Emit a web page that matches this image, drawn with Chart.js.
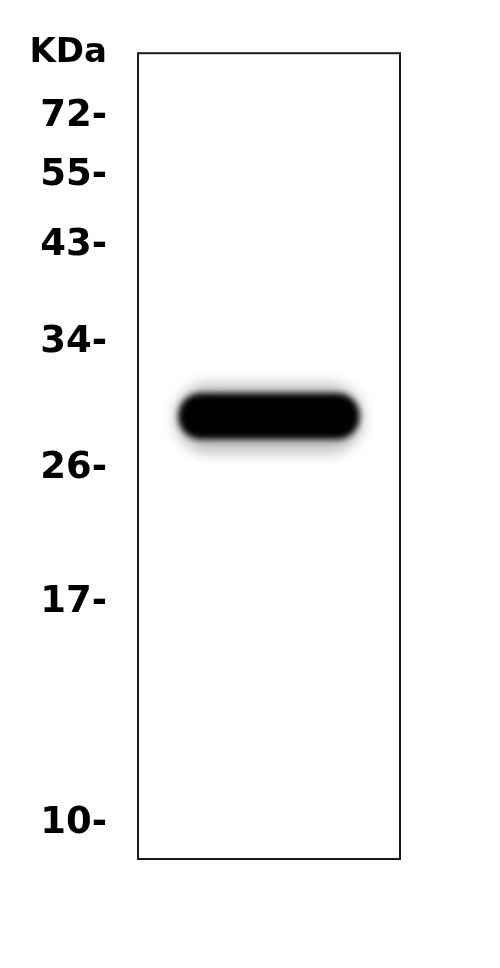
<!DOCTYPE html>
<html>
<head>
<meta charset="utf-8">
<script src="https://cdn.jsdelivr.net/npm/chart.js@4.4.1/dist/chart.umd.min.js"></script>
<style>
  html, body { margin: 0; padding: 0; background: #ffffff; }
  #wrap { width: 500px; height: 968px; position: relative; }
</style>
</head>
<body>
<div id="wrap"><canvas id="c"></canvas></div>
<script>
// ---- data read from the blot ----
const unitLabel = 'KDa';
const markerKDa = [72, 55, 43, 34, 26, 17, 10];
// relative migration distance down the lane (0 = top of lane, 100 = bottom)
const markerMigration = [7.9, 15.2, 23.8, 35.9, 51.5, 68.1, 95.6];
const unitPosition = 0;
const lanes = ['Lane 1'];
// detected band (relative migration: [upper edge, lower edge])
const bandCore = [[42.2, 47.9]];
const bandHalo = [[41.0, 49.6]];

const tickValues = [unitPosition].concat(markerMigration);
const tickLabels = [unitLabel].concat(markerKDa.map(v => v + '-'));

const blurPlugin = {
  id: 'bandBlur',
  beforeDatasetDraw(chart, args) {
    const ds = chart.data.datasets[args.index];
    chart.ctx.save();
    chart.ctx.filter = 'blur(' + (ds.blurPx || 0) + 'px)';
  },
  afterDatasetDraw(chart) {
    chart.ctx.restore();
  }
};

const framePlugin = {
  id: 'laneFrame',
  afterDraw(chart) {
    const a = chart.chartArea;
    const ctx = chart.ctx;
    ctx.save();
    ctx.strokeStyle = '#1a1a1a';
    ctx.lineWidth = 2;
    ctx.strokeRect(a.left, a.top, a.right - a.left, a.bottom - a.top);
    ctx.restore();
  }
};

new Chart(document.getElementById('c'), {
  type: 'bar',
  data: {
    labels: lanes,
    datasets: [
      {
        data: bandHalo,
        backgroundColor: 'rgba(0,0,0,0.25)',
        borderSkipped: false,
        borderRadius: 40,
        barPercentage: 0.72,
        categoryPercentage: 1,
        grouped: false,
        blurPx: 7
      },
      {
        data: bandCore,
        backgroundColor: '#000000',
        borderSkipped: false,
        borderRadius: 22,
        barPercentage: 0.69,
        categoryPercentage: 1,
        grouped: false,
        blurPx: 3
      }
    ]
  },
  options: {
    responsive: true,
    maintainAspectRatio: false,
    animation: false,
    devicePixelRatio: 1,
    layout: { padding: { top: 52, bottom: 109, right: 100, left: 0 } },
    plugins: {
      legend: { display: false },
      tooltip: { enabled: false },
      title: { display: false }
    },
    scales: {
      x: { display: false },
      y: {
        type: 'linear',
        reverse: true,
        min: 0,
        max: 100,
        grid: { display: false, drawTicks: false },
        border: { display: false },
        afterFit(scale) { scale.width = 138; },
        afterBuildTicks(scale) {
          scale.ticks = tickValues.map(v => ({ value: v }));
        },
        ticks: {
          autoSkip: false,
          padding: 31,
          color: '#000000',
          font: (ctx) => ({
            family: '"DejaVu Sans", Verdana, sans-serif',
            weight: 'bold',
            size: ctx.index === 0 ? 34 : 37
          }),
          callback: (value, index) => tickLabels[index]
        }
      }
    }
  },
  plugins: [blurPlugin, framePlugin]
});
</script>
</body>
</html>
